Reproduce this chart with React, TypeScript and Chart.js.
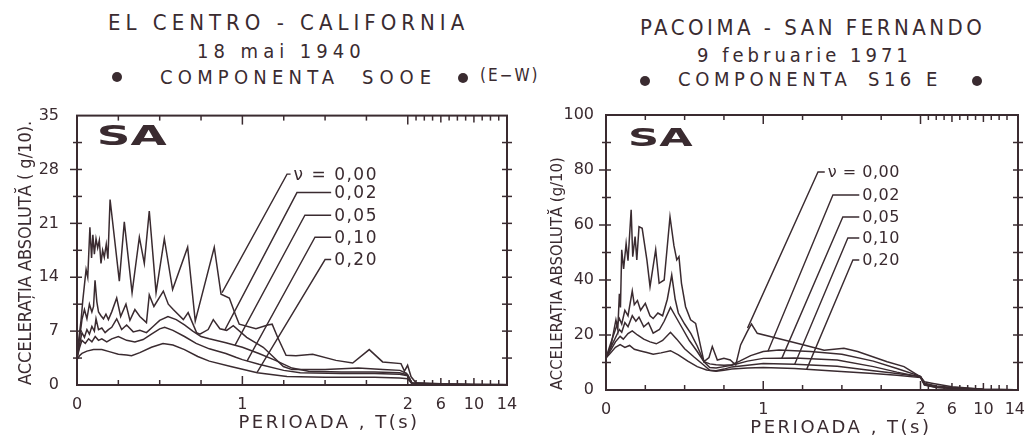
import React, { useEffect, useRef } from 'react';
import { Chart, registerables } from 'chart.js';

Chart.register(...registerables);

const INK = '#3a2b30';
const FONT = '"DejaVu Sans", sans-serif';
const FONT_C = '"DejaVu Sans Condensed", "DejaVu Sans", sans-serif';

// ---- axis data ----
const PERIOD_TICKS = [0, 1, 2, 6, 10, 14];
const PERIOD_MINOR = [0.25, 0.5, 0.75, 1, 1.25, 1.5, 1.75, 2, 3, 4, 5, 6, 7, 8, 9, 10, 11, 12, 13];
const LONG_PERIOD_SCALE = 0.05; // compression of the 2..14 s part of the period axis
const DAMPING_LABELS = ['ν = 0,00', '0,02', '0,05', '0,10', '0,20'];

// ---- El Centro, S00E : [T (s), SA (g/10)] ----
const EC_000: [number, number][] = [
  [0, 3.5], [0.012, 6.2], [0.025, 8.5], [0.035, 11], [0.045, 13], [0.055, 15], [0.065, 14], [0.078, 20.5],
  [0.088, 16.5], [0.096, 19.5], [0.105, 17], [0.115, 19], [0.125, 17.8], [0.135, 18.8], [0.145, 15.8],
  [0.155, 17.5], [0.165, 16.6], [0.177, 18.3], [0.187, 16.4], [0.2, 24.1], [0.256, 13.5], [0.286, 21.2],
  [0.333, 12.0], [0.377, 19.2], [0.407, 15.8], [0.437, 22.6], [0.478, 12.0], [0.528, 19.0], [0.578, 12.4],
  [0.669, 17.9], [0.715, 8.3], [0.83, 17.9], [0.871, 11.8], [0.921, 11.3], [0.957, 9.2], [0.981, 7.9],
  [1.082, 7.3], [1.153, 7.8], [1.18, 7.9], [1.213, 6.2], [1.264, 3.85], [1.324, 3.8], [1.425, 4.0],
  [1.566, 3.2], [1.667, 2.86], [1.767, 4.6], [1.848, 3.0], [1.959, 2.78], [1.98, 1.8], [1.999, 2.56],
  [2.4, 1.07], [3.0, 0.3], [4, 0.25], [6, 0.15], [10, 0.08], [14, 0.05],
];
const EC_002: [number, number][] = [
  [0, 3.5], [0.015, 6], [0.03, 8.5], [0.045, 9.8], [0.06, 8.6], [0.075, 10.5], [0.09, 9.5], [0.1, 10.2],
  [0.109, 13.6], [0.12, 10.8], [0.13, 9.5], [0.145, 9.0], [0.16, 8.6], [0.175, 9.2], [0.19, 8.5], [0.21, 9.5],
  [0.24, 11.3], [0.264, 8.9], [0.296, 10.5], [0.32, 8.4], [0.35, 9.8], [0.38, 8.9], [0.42, 8.1], [0.437, 11.7],
  [0.465, 10.2], [0.522, 12.2], [0.552, 10.5], [0.582, 9.8], [0.643, 8.5], [0.672, 9.4], [0.723, 6.8],
  [0.743, 6.6], [0.793, 7.2], [0.824, 8.5], [0.864, 7.3], [0.905, 7.1], [0.945, 7.7], [1.026, 6.2],
  [1.126, 4.9], [1.18, 3.8], [1.248, 2.4], [1.3, 2.0], [1.5, 2.0], [1.7, 2.2], [1.85, 2.0], [1.953, 1.9],
  [1.993, 1.5], [2.5, 0.3], [4, 0.2], [6, 0.12], [10, 0.06], [14, 0.04],
];
const EC_005: [number, number][] = [
  [0, 3.5], [0.015, 5.2], [0.03, 6.8], [0.045, 6.2], [0.06, 7.2], [0.075, 6.6], [0.09, 7.6], [0.105, 7.0],
  [0.115, 8.6], [0.13, 7.2], [0.15, 7.4], [0.17, 6.8], [0.19, 7.2], [0.21, 7.5], [0.24, 8.6], [0.27, 7.2],
  [0.3, 7.8], [0.34, 6.9], [0.38, 7.1], [0.42, 6.8], [0.46, 7.6], [0.5, 8.4], [0.55, 8.9], [0.6, 8.5],
  [0.65, 7.8], [0.7, 7.0], [0.75, 6.3], [0.8, 6.0], [0.9, 5.5], [1.0, 4.9], [1.1, 4.1], [1.2, 3.2],
  [1.3, 2.2], [1.4, 1.8], [1.6, 1.7], [1.8, 1.7], [1.95, 1.6], [2.0, 1.3], [2.5, 0.25], [4, 0.15],
  [6, 0.1], [10, 0.05], [14, 0.03],
];
const EC_010: [number, number][] = [
  [0, 3.5], [0.015, 4.8], [0.03, 5.8], [0.05, 5.4], [0.07, 6.0], [0.09, 5.6], [0.11, 6.3], [0.13, 5.8],
  [0.15, 6.0], [0.18, 5.6], [0.21, 6.0], [0.25, 6.3], [0.3, 5.8], [0.35, 5.6], [0.4, 5.9], [0.45, 6.6],
  [0.5, 7.3], [0.53, 7.5], [0.58, 7.1], [0.65, 6.3], [0.72, 5.4], [0.8, 4.7], [0.9, 4.1], [0.96, 3.6],
  [1.0, 3.3], [1.1, 2.7], [1.25, 1.9], [1.35, 1.6], [1.6, 1.5], [1.8, 1.5], [1.95, 1.4], [2.0, 1.2],
  [2.5, 0.2], [4, 0.12], [6, 0.08], [10, 0.04], [14, 0.02],
];
const EC_020: [number, number][] = [
  [0, 3.3], [0.015, 3.8], [0.03, 4.1], [0.06, 4.4], [0.1, 4.6], [0.15, 4.6], [0.2, 4.3], [0.25, 4.0],
  [0.3, 3.9], [0.33, 3.8], [0.38, 4.2], [0.45, 4.9], [0.52, 5.4], [0.58, 5.2], [0.65, 4.6], [0.73, 3.7],
  [0.8, 3.1], [0.93, 2.4], [1.09, 1.6], [1.27, 1.1], [1.5, 1.0], [1.8, 1.0], [1.95, 0.9], [2.0, 0.8],
  [2.5, 0.15], [4, 0.1], [6, 0.06], [10, 0.03], [14, 0.02],
];

// ---- Pacoima, S16E : [T (s), SA (g/10)] ----
const PC_000: [number, number][] = [
  [0, 11.6], [0.03, 15.7], [0.063, 25.5], [0.075, 22], [0.085, 35], [0.092, 30], [0.1, 51], [0.112, 44],
  [0.128, 53.3], [0.14, 47], [0.16, 65.5], [0.17, 48.5], [0.185, 55.8], [0.196, 47.3], [0.21, 59.4],
  [0.23, 58.8], [0.26, 47.3], [0.28, 37.6], [0.316, 51], [0.338, 38.8], [0.37, 40], [0.407, 63],
  [0.432, 52.5], [0.45, 47.3], [0.464, 48.5], [0.48, 38.8], [0.506, 30.3], [0.538, 25.5], [0.57, 24.2],
  [0.602, 15.8], [0.623, 10.3], [0.655, 11.8], [0.676, 15.8], [0.708, 10.9], [0.75, 11.5], [0.79, 10.9],
  [0.825, 9.1], [0.856, 16.4], [0.898, 21.2], [0.925, 24], [0.962, 20.6], [1.089, 18.8], [1.259, 16.4],
  [1.387, 14.5], [1.513, 15.2], [1.6, 14], [1.788, 10.3], [1.895, 8.5], [2.0, 4.8], [2.5, 3.0],
  [3.6, 2.4], [6, 1.2], [10, 0.3], [14, 0.1],
];
const PC_002: [number, number][] = [
  [0, 11.8], [0.03, 17], [0.06, 22], [0.085, 26], [0.1, 24], [0.12, 29], [0.14, 27], [0.167, 36],
  [0.18, 31], [0.2, 32.5], [0.22, 29], [0.25, 31.5], [0.28, 27], [0.3, 26], [0.33, 28], [0.36, 27],
  [0.39, 33], [0.418, 41.8], [0.44, 33], [0.46, 28], [0.5, 24], [0.54, 20.5], [0.58, 16], [0.623, 10.3],
  [0.66, 9.5], [0.7, 9.2], [0.75, 9], [0.8, 9.2], [0.85, 10.5], [0.92, 12.5], [1.0, 14], [1.1, 14.5],
  [1.3, 14], [1.5, 13], [1.7, 10.5], [1.85, 7.8], [2.0, 5.0], [2.5, 2.5], [4, 1.5], [6, 0.9],
  [10, 0.3], [14, 0.1],
];
const PC_005: [number, number][] = [
  [0, 11.8], [0.03, 15.5], [0.06, 19], [0.085, 22], [0.1, 21], [0.12, 24.5], [0.14, 23], [0.167, 27],
  [0.19, 25], [0.21, 26.5], [0.24, 23], [0.27, 24.5], [0.3, 20.7], [0.34, 22], [0.37, 25], [0.41, 30],
  [0.44, 27], [0.48, 23], [0.53, 18], [0.58, 14], [0.623, 10.3], [0.66, 8.2], [0.7, 8.0], [0.75, 8.5],
  [0.8, 9.0], [0.9, 10.5], [1.0, 11.5], [1.2, 11.6], [1.47, 10.9], [1.7, 8.5], [1.85, 6.5], [2.0, 4.8],
  [2.5, 2.2], [4, 1.2], [6, 0.7], [10, 0.2], [14, 0.1],
];
const PC_010: [number, number][] = [
  [0, 11.8], [0.03, 14.5], [0.06, 17.5], [0.09, 19.5], [0.11, 18.5], [0.14, 20.5], [0.167, 21.5],
  [0.2, 20], [0.24, 18.5], [0.28, 17.5], [0.32, 16.8], [0.36, 18], [0.41, 21], [0.45, 18.5], [0.5, 15],
  [0.56, 12], [0.623, 9.0], [0.66, 7.2], [0.7, 7.0], [0.75, 7.6], [0.8, 8.4], [0.9, 9.0], [1.0, 9.6],
  [1.2, 9.4], [1.47, 8.6], [1.7, 7.0], [1.85, 6.0], [2.0, 4.8], [2.5, 2.0], [4, 1.0], [6, 0.6],
  [10, 0.15], [14, 0.05],
];
const PC_020: [number, number][] = [
  [0, 11.6], [0.03, 13.5], [0.06, 15.5], [0.09, 16.5], [0.12, 15.5], [0.15, 16.2], [0.18, 14.8],
  [0.22, 14.2], [0.26, 13.6], [0.3, 13.0], [0.35, 13.5], [0.41, 14.3], [0.46, 12.8], [0.52, 10.5],
  [0.58, 8.5], [0.64, 7.3], [0.7, 6.8], [0.75, 7.2], [0.8, 7.6], [0.9, 8.0], [1.0, 8.2], [1.2, 7.8],
  [1.47, 6.8], [1.7, 6.0], [1.85, 5.4], [2.0, 4.5], [2.5, 1.8], [4, 0.9], [6, 0.5], [10, 0.1],
  [14, 0.05],
];

// leader lines: label right edge T, elbow (T, SA), curve point (T, SA)
const EC_LEADERS = [
  { textT: 1.82, elbowT: 1.27, elbowV: 27.4, pointT: 0.877, pointV: 12.0 },
  { textT: 1.82, elbowT: 1.33, elbowV: 25.0, pointT: 0.895, pointV: 7.2 },
  { textT: 1.82, elbowT: 1.378, elbowV: 22.05, pointT: 0.955, pointV: 5.15 },
  { textT: 1.82, elbowT: 1.439, elbowV: 19.2, pointT: 1.028, pointV: 3.1 },
  { textT: 1.82, elbowT: 1.5, elbowV: 16.3, pointT: 1.088, pointV: 1.6 },
];
const PC_LEADERS = [
  { textT: 1.869, elbowT: 1.348, elbowV: 79.3, pointT: 0.9, pointV: 22.5 },
  { textT: 1.869, elbowT: 1.443, elbowV: 70.9, pointT: 1.03, pointV: 14.1 },
  { textT: 1.869, elbowT: 1.506, elbowV: 62.9, pointT: 1.118, pointV: 11.5 },
  { textT: 1.869, elbowT: 1.538, elbowV: 55.3, pointT: 1.2, pointV: 9.4 },
  { textT: 1.869, elbowT: 1.57, elbowV: 47.3, pointT: 1.276, pointV: 7.5 },
];

const TITLE_EC = ['EL CENTRO - CALIFORNIA', '18 mai 1940', 'COMPONENTA', 'SOOE', '(E−W)'];
const TITLE_PC = ['PACOIMA - SAN FERNANDO', '9 februarie 1971', 'COMPONENTA', 'S16 E'];

function toU(t: number) {
  return t <= 2 ? t : 2 + (t - 2) * LONG_PERIOD_SCALE;
}

type PanelCfg = {
  curves: [number, number][][];
  leaders: typeof EC_LEADERS;
  yMax: number;
  yStep: number;
  yMinor: number;
  xMax: number;
  yTitle: string;
  yTitleSize: number;
  yTitlePad: number;
  yWidth: number;
  xHeight: number;
  padTop: number;
  padRight: number;
  yTickPad: number;
  labelSize: number;
  labelSpacing: number;
  saT: number;
  saV: number;
  saSize: number;
  xTitleT: number;
  xTitleGap: number;
  width: number;
  height: number;
};

function line(ctx: CanvasRenderingContext2D, x1: number, y1: number, x2: number, y2: number) {
  ctx.beginPath();
  ctx.moveTo(x1, y1);
  ctx.lineTo(x2, y2);
  ctx.stroke();
}

function decorPlugin(cfg: PanelCfg) {
  return {
    id: 'decor',
    afterDraw(chart: any) {
      const ctx: CanvasRenderingContext2D = chart.ctx;
      const xs = chart.scales.x;
      const ys = chart.scales.y;
      const { left, right, top, bottom } = chart.chartArea;
      ctx.save();
      ctx.strokeStyle = INK;
      ctx.fillStyle = INK;
      ctx.lineWidth = 2;
      ctx.strokeRect(left, top, right - left, bottom - top);
      ctx.lineWidth = 1.5;
      // period ticks, bottom and top, inward
      for (const t of PERIOD_MINOR) {
        const px = xs.getPixelForValue(toU(t));
        const len = t === 1 || t === 2 ? 9 : t === 6 || t === 10 ? 7 : 5;
        line(ctx, px, bottom, px, bottom - len);
        line(ctx, px, top, px, top + len);
      }
      // ordinate ticks crossing the frame
      for (let v = cfg.yMinor; v < cfg.yMax - 1e-6; v += cfg.yMinor) {
        const py = ys.getPixelForValue(v);
        const major = Math.abs(v / cfg.yStep - Math.round(v / cfg.yStep)) < 1e-6;
        line(ctx, left - (major ? 7 : 4), py, left + 5, py);
        line(ctx, right - 5, py, right + 5, py);
      }
      // SA
      ctx.font = `bold ${cfg.saSize}px ${FONT}`;
      ctx.textAlign = 'left';
      ctx.textBaseline = 'alphabetic';
      ctx.save();
      ctx.translate(xs.getPixelForValue(cfg.saT), ys.getPixelForValue(cfg.saV));
      ctx.scale(1.8, 1);
      ctx.fillText('SA', 0, 0);
      ctx.restore();
      // leaders and damping labels
      ctx.font = `${cfg.labelSize}px ${FONT}`;
      (ctx as any).letterSpacing = `${cfg.labelSpacing}px`;
      ctx.textAlign = 'right';
      ctx.textBaseline = 'middle';
      ctx.lineWidth = 1.4;
      cfg.leaders.forEach((ld, i) => {
        const label = DAMPING_LABELS[i];
        const tx = xs.getPixelForValue(ld.textT);
        const ex = xs.getPixelForValue(ld.elbowT);
        const ey = ys.getPixelForValue(ld.elbowV);
        const w = ctx.measureText(label).width;
        ctx.fillText(label, tx, ey + 1);
        ctx.beginPath();
        ctx.moveTo(tx - w - 3, ey);
        ctx.lineTo(ex, ey);
        ctx.lineTo(xs.getPixelForValue(ld.pointT), ys.getPixelForValue(ld.pointV));
        ctx.stroke();
      });
      // abscissa title
      ctx.font = `18px ${FONT}`;
      (ctx as any).letterSpacing = '2.5px';
      ctx.textAlign = 'center';
      ctx.fillText('PERIOADA , T(s)', xs.getPixelForValue(cfg.xTitleT), bottom + cfg.xTitleGap);
      (ctx as any).letterSpacing = '0px';
      ctx.restore();
    },
  };
}

function Panel({ cfg, style }: { cfg: PanelCfg; style: React.CSSProperties }) {
  const ref = useRef<HTMLCanvasElement>(null);
  useEffect(() => {
    if (!ref.current) return;
    const chart = new Chart(ref.current, {
      type: 'line',
      data: {
        datasets: cfg.curves.map((c, i) => ({
          label: DAMPING_LABELS[i],
          data: c.map(([t, v]) => ({ x: toU(t), y: v })),
          borderColor: INK,
          borderWidth: 1.5,
          pointRadius: 0,
          tension: 0,
          fill: false,
        })),
      },
      options: {
        animation: false,
        responsive: false,
        maintainAspectRatio: false,
        layout: { padding: { top: cfg.padTop, right: cfg.padRight, left: 0, bottom: 0 } },
        plugins: { legend: { display: false }, tooltip: { enabled: false }, title: { display: false } },
        scales: {
          x: {
            type: 'linear',
            min: 0,
            max: cfg.xMax,
            grid: { display: false },
            border: { display: false },
            afterBuildTicks: (s: any) => {
              s.ticks = PERIOD_TICKS.map((t) => ({ value: toU(t) }));
            },
            afterFit: (s: any) => {
              s.height = cfg.xHeight;
            },
            ticks: {
              autoSkip: false,
              maxRotation: 0,
              padding: 2,
              color: INK,
              font: { family: FONT, size: 16 },
              callback: (val: any) => {
                const t = PERIOD_TICKS.find((p) => Math.abs(toU(p) - Number(val)) < 1e-6);
                return t === undefined ? '' : String(t);
              },
            },
          },
          y: {
            type: 'linear',
            min: 0,
            max: cfg.yMax,
            grid: { display: false },
            border: { display: false },
            afterFit: (s: any) => {
              s.width = cfg.yWidth;
            },
            ticks: {
              stepSize: cfg.yStep,
              padding: cfg.yTickPad,
              color: INK,
              font: { family: FONT, size: 16 },
            },
            title: {
              display: true,
              text: cfg.yTitle,
              align: 'start',
              color: INK,
              font: { family: FONT_C, size: cfg.yTitleSize },
              padding: { top: cfg.yTitlePad, bottom: 0 },
            },
          },
        },
      },
      plugins: [decorPlugin(cfg)],
    } as any);
    return () => chart.destroy();
  }, [cfg]);
  return <canvas ref={ref} width={cfg.width} height={cfg.height} style={{ position: 'absolute', ...style }} />;
}

const EC_CFG: PanelCfg = {
  curves: [EC_000, EC_002, EC_005, EC_010, EC_020],
  leaders: EC_LEADERS,
  yMax: 35,
  yStep: 7,
  yMinor: 3.5,
  xMax: 2.6,
  yTitle: 'ACCELERAȚIA ABSOLUTĂ ( g/10).',
  yTitleSize: 18,
  yTitlePad: 16,
  yWidth: 77,
  xHeight: 51,
  padTop: 16,
  padRight: 13,
  yTickPad: 10,
  labelSize: 17,
  labelSpacing: 1.5,
  saT: 0.12,
  saV: 31.2,
  saSize: 26,
  xTitleT: 1.524,
  xTitleGap: 38,
  width: 520,
  height: 340,
};

const PC_CFG: PanelCfg = {
  curves: [PC_000, PC_002, PC_005, PC_010, PC_020],
  leaders: PC_LEADERS,
  yMax: 100,
  yStep: 20,
  yMinor: 10,
  xMax: 2.62,
  yTitle: 'ACCELERAȚIA ABSOLUTĂ (g/10)',
  yTitleSize: 16.5,
  yTitlePad: 28,
  yWidth: 86,
  xHeight: 46,
  padTop: 19,
  padRight: 11,
  yTickPad: 4,
  labelSize: 16,
  labelSpacing: 0.5,
  saT: 0.14,
  saV: 88.7,
  saSize: 24,
  xTitleT: 1.494,
  xTitleGap: 38,
  width: 509,
  height: 340,
};

const txt = (left: number, top: number, size: number, ls: number): React.CSSProperties => ({
  position: 'absolute',
  left,
  top,
  fontFamily: FONT_C,
  fontStretch: 'condensed',
  fontSize: size,
  lineHeight: `${size}px`,
  letterSpacing: ls,
  color: INK,
  whiteSpace: 'pre',
});

const dot = (left: number, top: number): React.CSSProperties => ({
  position: 'absolute',
  left,
  top,
  width: 10,
  height: 10,
  borderRadius: 5,
  background: INK,
});

export default function App() {
  return (
    <div style={{ position: 'absolute', left: 0, top: 0, width: 1029, height: 436, background: '#fff', overflow: 'hidden' }}>
      <div style={txt(108, 12, 22, 5)}>{TITLE_EC[0]}</div>
      <div style={txt(197, 41, 20, 5)}>{TITLE_EC[1]}</div>
      <div style={dot(112, 72)} />
      <div style={txt(160, 67, 20, 5.2)}>{TITLE_EC[2]}</div>
      <div style={txt(362, 67, 20, 6)}>{TITLE_EC[3]}</div>
      <div style={dot(458, 73)} />
      <div style={txt(480, 67, 17, 2)}>{TITLE_EC[4]}</div>

      <div style={txt(640, 17, 22, 3.5)}>{TITLE_PC[0]}</div>
      <div style={txt(697, 45, 20, 4)}>{TITLE_PC[1]}</div>
      <div style={dot(640, 76)} />
      <div style={txt(678, 69, 20, 4.6)}>{TITLE_PC[2]}</div>
      <div style={txt(868, 69, 20, 4.5)}>{TITLE_PC[3]}</div>
      <div style={dot(972, 76)} />

      <Panel cfg={EC_CFG} style={{ left: 0, top: 96 }} />
      <Panel cfg={PC_CFG} style={{ left: 520, top: 96 }} />
    </div>
  );
}
